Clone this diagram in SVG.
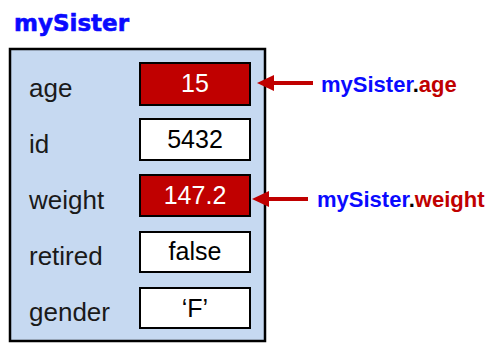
<svg xmlns="http://www.w3.org/2000/svg" width="492" height="343" viewBox="0 0 492 343">
<defs>
<style>
.lbl{font-family:"Liberation Sans",Arial,sans-serif;font-size:26px;fill:#1a1a1a}
.val{font-family:"Liberation Sans",Arial,sans-serif;font-size:25px;text-anchor:middle}
.box{stroke:#000;stroke-width:2}
.hi{fill:#c00000}
.lo{fill:#fff}
.ref{font-family:"Liberation Sans",Arial,sans-serif;font-size:22px;font-weight:bold}
.blue{fill:#0a0aff}
.red{fill:#c00000}
.arrow{stroke:#c00000;stroke-width:4;fill:none}
.head{fill:#c00000}
</style>
</defs>
<g id="title">
<text x="14" y="31" font-family="DejaVu Sans,sans-serif" font-weight="bold" font-size="23" fill="#0a0aff" stroke="#0a0aff" stroke-width="0.6">mySister</text>
</g>
<g id="object">
<rect x="10" y="49" width="255" height="292" fill="#c6d9f1" stroke="#000" stroke-width="2.5"/>
</g>
<g id="age">
<text class="lbl" x="29" y="97">age</text>
<rect class="box hi" x="140" y="63" width="110" height="42"/>
<text class="val" x="195" y="92" fill="#fff">15</text>
</g>
<g id="id">
<text class="lbl" x="29" y="153">id</text>
<rect class="box lo" x="140" y="119" width="110" height="41"/>
<text class="val" x="195" y="148" fill="#000">5432</text>
</g>
<g id="weight">
<text class="lbl" x="29" y="209">weight</text>
<rect class="box hi" x="140" y="175" width="110" height="41"/>
<text class="val" x="195" y="204" fill="#fff">147.2</text>
</g>
<g id="retired">
<text class="lbl" x="29" y="265">retired</text>
<rect class="box lo" x="140" y="232" width="110" height="40"/>
<text class="val" x="195" y="260" fill="#000">false</text>
</g>
<g id="gender">
<text class="lbl" x="29" y="321">gender</text>
<rect class="box lo" x="140" y="288" width="110" height="40"/>
<text class="val" x="195" y="317" fill="#000">‘F’</text>
</g>
<g id="ref-age">
<text class="ref" x="321" y="92"><tspan class="blue">mySister</tspan><tspan fill="#000">.</tspan><tspan class="red">age</tspan></text>
</g>
<g id="ref-weight">
<text class="ref" x="317" y="207"><tspan class="blue">mySister</tspan><tspan fill="#000">.</tspan><tspan class="red">weight</tspan></text>
</g>
<g id="connectors">
<line class="arrow" x1="313" y1="83" x2="272" y2="83"/>
<polygon class="head" points="257,83 274,75 274,91"/>
<line class="arrow" x1="308" y1="199" x2="267" y2="199"/>
<polygon class="head" points="252,199 269,191 269,207"/>
</g>
</svg>
